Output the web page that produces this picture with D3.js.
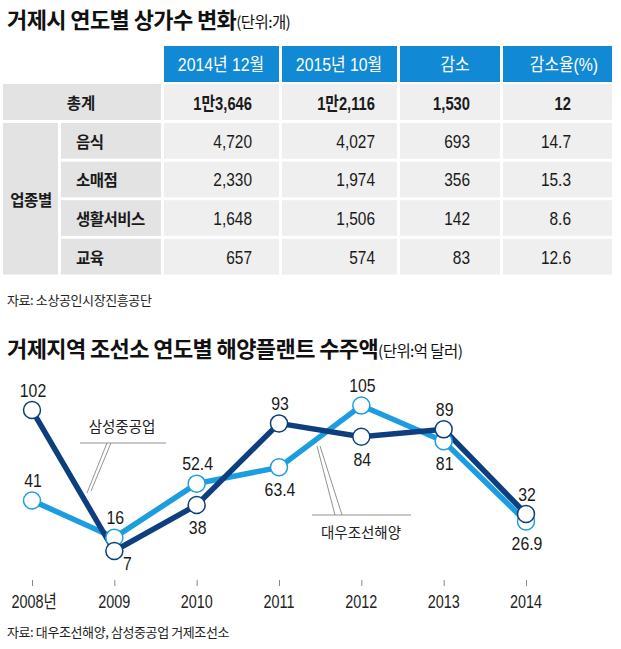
<!DOCTYPE html>
<html><head><meta charset="utf-8">
<script src="https://cdn.jsdelivr.net/npm/d3@7"></script>
<style>
body{margin:0;background:#fff;}
svg{display:block;}
.kr{font-family:"Noto Sans CJK KR","Noto Sans",sans-serif;}
.num{font-family:"Liberation Sans",Arial,"Noto Sans CJK KR",sans-serif;}
</style></head>
<body>
<svg id="c" width="621" height="649"></svg>
<script>
// ---------- data ----------
const tableHeaders = ["2014년 12월", "2015년 10월", "감소", "감소율(%)"];
const totalLabel = "총계";
const totalRow = ["1만3,646", "1만2,116", "1,530", "12"];
const groupLabel = "업종별";
const categories = ["음식", "소매점", "생활서비스", "교육"];
const dec2014 = [4720, 2330, 1648, 657];
const oct2015 = [4027, 1974, 1506, 574];
const decrease = [693, 356, 142, 83];
const decreaseRate = [14.7, 15.3, 8.6, 12.6];

const years = ["2008", "2009", "2010", "2011", "2012", "2013", "2014"];
const yearLabels = ["2008년", "2009", "2010", "2011", "2012", "2013", "2014"];
const samsung = [102, 7, 38, 93, 84, 89, 32];
const daewoo = [41, 16, 52.4, 63.4, 105, 81, 26.9];
const samsungName = "삼성중공업";
const daewooName = "대우조선해양";

const title1 = "거제시 연도별 상가수 변화", unit1 = "(단위:개)";
const source1 = "자료: 소상공인시장진흥공단";
const title2 = "거제지역 조선소 연도별 해양플랜트 수주액", unit2 = "(단위:억 달러)";
const source2 = "자료: 대우조선해양, 삼성중공업 거제조선소";

// ---------- drawing ----------
const svg = d3.select("#c");
const txt = "#1a1a1a";

// condensed numeric text helper
function ntext(x, y, str, o) {
  const sx = o.sx || 0.86;
  return svg.append("text").attr("class", "num")
    .attr("transform", `translate(${x},${y}) scale(${sx},1)`)
    .attr("text-anchor", o.anchor || "middle").attr("dominant-baseline", "central")
    .attr("font-size", o.size || 18).attr("font-weight", o.weight || 400)
    .attr("fill", o.fill || txt).text(str);
}

function title(y, t, u) {
  const el = svg.append("text").attr("class", "kr").attr("x", 7).attr("y", y)
    .attr("fill", "#111");
  el.append("tspan").attr("font-size", 22).attr("font-weight", 700)
    .attr("letter-spacing", -0.6).text(t);
  el.append("tspan").attr("font-size", 15.5).attr("letter-spacing", -0.6).text(u);
}
title(28, title1, unit1);

// table
const colX = [[164, 279], [282, 397], [400, 500], [503, 612]];
const valRight = [252, 375, 470, 571];
const headCenter = [221, 339, 455, 564];
const headY = [46, 82], totY = [84, 120];
const rowY = d3.scaleBand().domain(categories).range([123, 274.5]).paddingInner(0.075);
const blue = "#1189d4", gLab = "#e3e3e4", gDat = "#efefef";
const fmt = d3.format(",");

colX.forEach((c, i) => {
  svg.append("rect").attr("x", c[0]).attr("y", headY[0]).attr("width", c[1] - c[0])
    .attr("height", headY[1] - headY[0]).attr("fill", blue);
  ntext(headCenter[i], (headY[0] + headY[1]) / 2 + 1, tableHeaders[i], {size: 18, fill: "#fff", sx: 0.88});
});
// total row
svg.append("rect").attr("x", 3).attr("y", totY[0]).attr("width", 158).attr("height", totY[1] - totY[0]).attr("fill", gLab);
svg.append("text").attr("class", "kr").attr("x", 81).attr("y", (totY[0] + totY[1]) / 2)
  .attr("text-anchor", "middle").attr("dominant-baseline", "central")
  .attr("font-size", 15.5).attr("font-weight", 700).attr("fill", txt).text(totalLabel);
colX.forEach((c, i) => {
  svg.append("rect").attr("x", c[0]).attr("y", totY[0]).attr("width", c[1] - c[0])
    .attr("height", totY[1] - totY[0]).attr("fill", gDat);
  ntext(valRight[i], (totY[0] + totY[1]) / 2 + 1, totalRow[i], {anchor: "end", size: 18, weight: 700, sx: 0.82});
});
// group cell
svg.append("rect").attr("x", 3).attr("y", rowY.range()[0]).attr("width", 55)
  .attr("height", rowY.range()[1] - rowY.range()[0]).attr("fill", gLab);
svg.append("text").attr("class", "kr").attr("x", 31).attr("y", (rowY.range()[0] + rowY.range()[1]) / 2)
  .attr("text-anchor", "middle").attr("dominant-baseline", "central")
  .attr("font-size", 15.5).attr("font-weight", 700).attr("letter-spacing", -0.5).attr("fill", txt).text(groupLabel);
const cols = [dec2014.map(fmt), oct2015.map(fmt), decrease.map(fmt), decreaseRate.map(d => d.toFixed(1))];
categories.forEach((cat, r) => {
  const y0 = rowY(cat), h = rowY.bandwidth(), cy = y0 + h / 2;
  svg.append("rect").attr("x", 61).attr("y", y0).attr("width", 100).attr("height", h).attr("fill", gLab);
  svg.append("text").attr("class", "kr").attr("x", 76).attr("y", cy)
    .attr("dominant-baseline", "central").attr("font-size", 15.5).attr("font-weight", 700)
    .attr("letter-spacing", -0.5).attr("fill", txt).text(cat);
  colX.forEach((c, i) => {
    svg.append("rect").attr("x", c[0]).attr("y", y0).attr("width", c[1] - c[0]).attr("height", h).attr("fill", gDat);
    ntext(valRight[i], cy + 1, cols[i][r], {anchor: "end", size: 18});
  });
});

svg.append("text").attr("class", "kr").attr("x", 7).attr("y", 305).attr("font-size", 13)
  .attr("letter-spacing", -0.4).attr("fill", "#222").text(source1);

title(357, title2, unit2);

// line chart
const x = d3.scalePoint().domain(years).range([32, 526]);
const y = d3.scaleLinear().domain([0, 105]).range([561.4, 405.6]);
const dark = "#0d3f7e", light = "#1c9ddf";

// axis ticks (labels drawn condensed)
const axisG = svg.append("g").attr("transform", "translate(0,580)");
axisG.call(d3.axisBottom(x).tickSize(6).tickFormat(""));
axisG.select(".domain").remove();
axisG.selectAll(".tick line").attr("stroke", "#888");
years.forEach((yr, i) => ntext(x(yr) + (i === 0 ? 2 : 0), 601, yearLabels[i], {size: 18, fill: "#222", sx: 0.8}));

// callouts
const callout = svg.append("g").attr("stroke", "#777").attr("stroke-width", 0.8).attr("fill", "none");
callout.append("line").attr("x1", 80).attr("x2", 166).attr("y1", 443).attr("y2", 443);
callout.append("path").attr("d", "M107,443 L87,493 M111,443 L91,491");
svg.append("text").attr("class", "kr").attr("x", 122).attr("y", 432).attr("text-anchor", "middle")
  .attr("font-size", 14.5).attr("fill", "#222").text(samsungName);
callout.append("line").attr("x1", 312).attr("x2", 411).attr("y1", 515).attr("y2", 515);
callout.append("path").attr("d", "M317,446 L335,515 M320,446 L342,515");
svg.append("text").attr("class", "kr").attr("x", 361).attr("y", 538).attr("text-anchor", "middle")
  .attr("font-size", 14.5).attr("fill", "#222").text(daewooName);

const line = d3.line().x((d, i) => x(years[i])).y(d => y(d));
svg.append("path").datum(daewoo).attr("d", line).attr("fill", "none").attr("stroke", light).attr("stroke-width", 5.5);
svg.append("path").datum(samsung).attr("d", line).attr("fill", "none").attr("stroke", dark).attr("stroke-width", 5.5);

function dots(vals, color) {
  svg.append("g").selectAll("circle").data(vals).join("circle")
    .attr("cx", (d, i) => x(years[i])).attr("cy", d => y(d)).attr("r", 8.5)
    .attr("fill", "#fff").attr("stroke", color).attr("stroke-width", 1.5);
}
dots(daewoo, light);
dots(samsung, dark);

// value labels: placement relative to marker
const samsungPlace = ["above", "rightBelow", "below", "above", "below", "above", "above"];
const daewooPlace = ["above", "above", "above", "below", "above", "below", "below"];
function labels(vals, place) {
  vals.forEach((d, i) => {
    const dx = place[i] === "rightBelow" ? 13 : 1;
    const dy = place[i] === "above" ? -19 : place[i] === "below" ? 23 : 13;
    ntext(x(years[i]) + dx, y(d) + dy, String(d), {size: 18, sx: 0.88});
  });
}
labels(samsung, samsungPlace);
labels(daewoo, daewooPlace);

svg.append("text").attr("class", "kr").attr("x", 7).attr("y", 637).attr("font-size", 13)
  .attr("letter-spacing", -0.4).attr("fill", "#222").text(source2);
</script>
</body></html>
